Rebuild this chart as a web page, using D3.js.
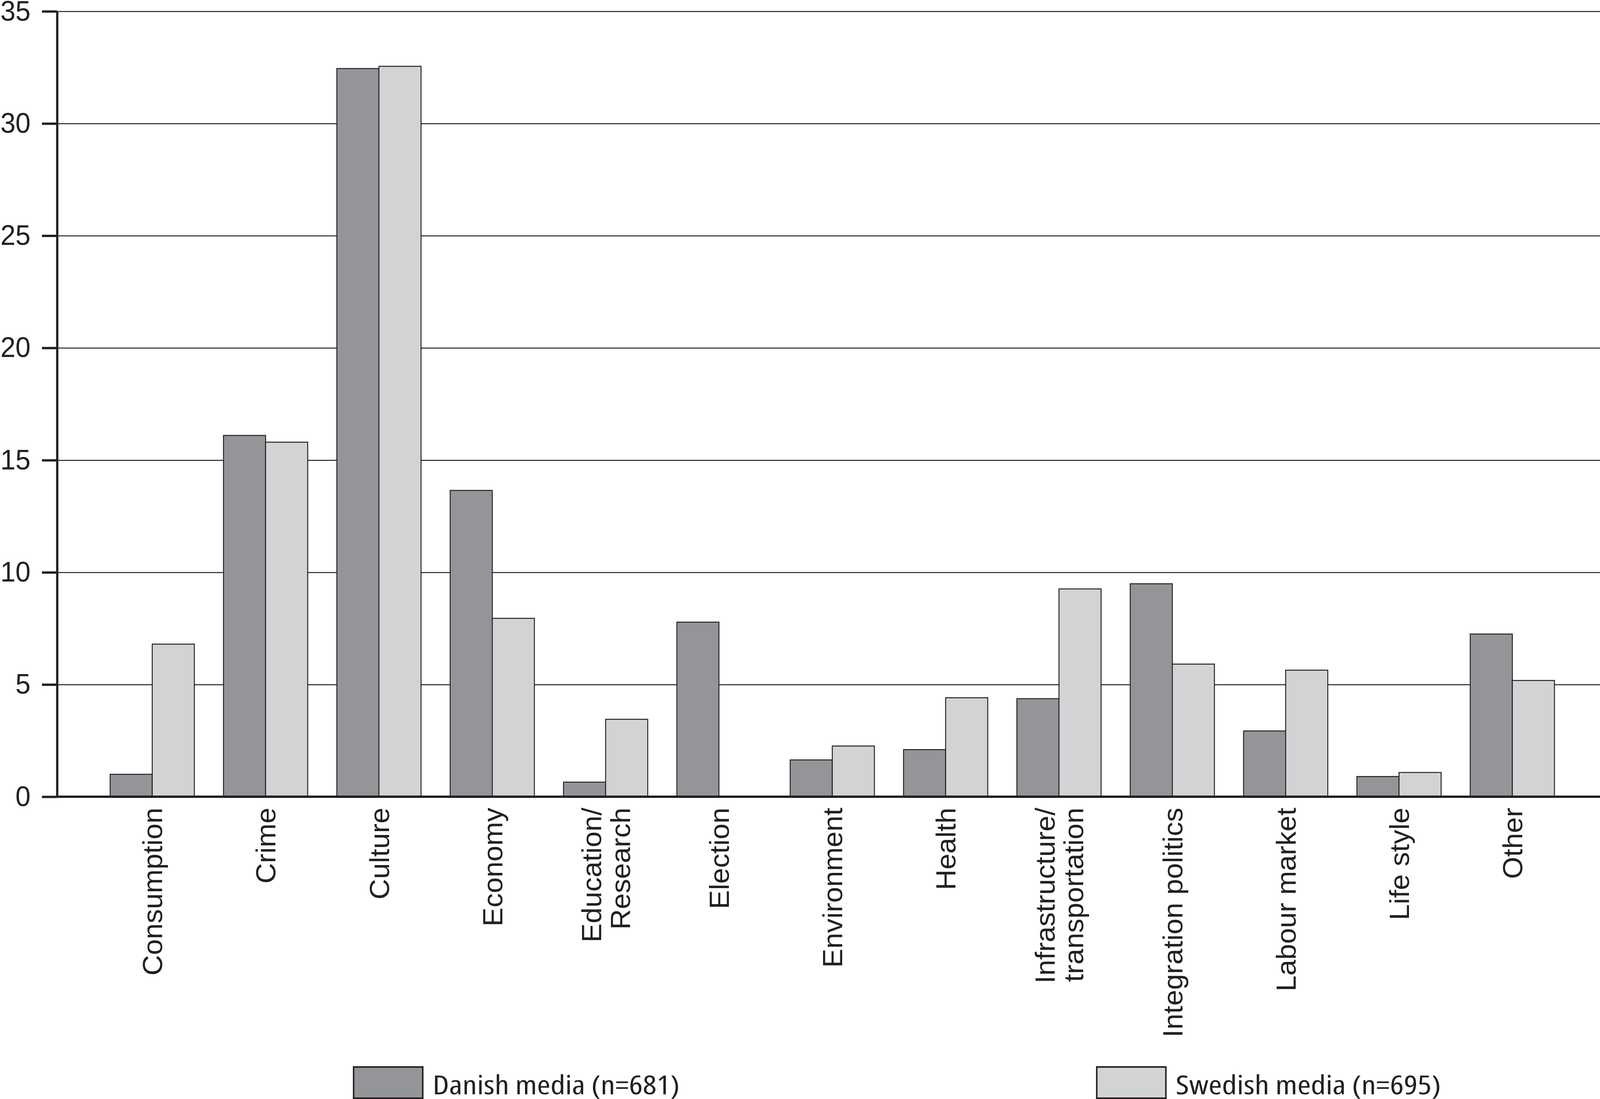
<!DOCTYPE html>
<html>
<head>
<meta charset="utf-8">
<script src="https://cdn.jsdelivr.net/npm/d3@7/dist/d3.min.js"></script>
<style>
  html, body { margin: 0; padding: 0; width: 100%; height: 100%; overflow: hidden; background: #fff; }
  svg { display: block; }
</style>
</head>
<body>
<script>
var categories = ['Consumption', 'Crime', 'Culture', 'Economy', 'Education/Research', 'Election',
  'Environment', 'Health', 'Infrastructure/transportation', 'Integration politics',
  'Labour market', 'Life style', 'Other'];
var danish  = [1.0, 16.1, 32.45, 13.65, 0.65, 7.78, 1.64, 2.1, 4.37, 9.49, 2.93, 0.9, 7.25];
var swedish = [6.8, 15.8, 32.55, 7.95, 3.45, 0, 2.26, 4.41, 9.26, 5.91, 5.64, 1.08, 5.18];
var seriesNames = ['Danish media (n=681)', 'Swedish media (n=695)'];
var yTicks = [0, 5, 10, 15, 20, 25, 30, 35];

var svgWidth = 4235;
var svgHeight = 2814;
var axisX = 151;
var ink = '#231f20';
var fills = ['#939598', '#d1d3d4'];

var svg = d3.select('body').append('svg')
  .attr('width', '100%')
  .attr('height', '100%')
  .attr('viewBox', '0 0 ' + svgWidth + ' ' + svgHeight)
  .attr('preserveAspectRatio', 'none');

svg.append('rect')
  .attr('width', svgWidth)
  .attr('height', svgHeight)
  .attr('fill', '#fff');

var yScale = d3.scaleLinear()
  .domain([0, 35])
  .range([2040, 29]);

var xScale = d3.scaleBand()
  .domain(categories)
  .range([253, 4153])
  .paddingInner(0.257)
  .paddingOuter(0.1285);

var x1 = d3.scaleBand()
  .domain([0, 1])
  .range([0, xScale.bandwidth()]);

// grid lines (behind the bars)
var grid = svg.append('g')
  .attr('transform', 'translate(' + axisX + ',0)')
  .call(d3.axisLeft(yScale).tickValues(yTicks.filter(function(d) { return d > 0; }))
    .tickSize(-(svgWidth - axisX)).tickFormat(''));
grid.select('.domain').remove();
grid.selectAll('.tick line')
  .attr('stroke', ink)
  .attr('stroke-width', 2.5);

// bars
var rows = categories.map(function(c, i) {
  return {cat: c, values: [danish[i], swedish[i]]};
});

var groups = svg.selectAll('g.group')
  .data(rows)
  .enter()
  .append('g')
    .attr('class', 'group')
    .attr('transform', function(d) { return 'translate(' + xScale(d.cat) + ',0)'; });

groups.selectAll('rect')
  .data(function(d) { return d.values.map(function(v, k) { return {k: k, v: v}; }); })
  .enter()
  .filter(function(d) { return d.v > 0; })
  .append('rect')
    .attr('x', function(d) { return x1(d.k); })
    .attr('y', function(d) { return yScale(d.v); })
    .attr('width', x1.bandwidth())
    .attr('height', function(d) { return yScale(0) - yScale(d.v); })
    .attr('fill', function(d) { return fills[d.k]; })
    .attr('stroke', ink)
    .attr('stroke-width', 2.5);

// zero line
svg.append('line')
  .attr('x1', axisX)
  .attr('x2', svgWidth)
  .attr('y1', yScale(0))
  .attr('y2', yScale(0))
  .attr('stroke', ink)
  .attr('stroke-width', 6);

// y axis
var yAxis = svg.append('g')
  .attr('transform', 'translate(' + axisX + ',0)')
  .call(d3.axisLeft(yScale).tickValues(yTicks).tickSize(40).tickSizeOuter(0).tickPadding(30));
yAxis.select('.domain')
  .attr('stroke', ink)
  .attr('stroke-width', 6);
yAxis.selectAll('.tick line')
  .attr('stroke', ink)
  .attr('stroke-width', 6);
yAxis.selectAll('.tick text')
  .attr('fill', ink)
  .attr('font-family', 'Liberation Sans, Arial, sans-serif')
  .attr('font-size', 72);

// x axis labels, rotated
var xAxis = svg.append('g')
  .attr('transform', 'translate(0,' + yScale(0) + ')')
  .call(d3.axisBottom(xScale).tickSize(0).tickFormat(''));
xAxis.select('.domain').remove();

xAxis.selectAll('.tick').each(function(d) {
  var cut = d.indexOf('/');
  var lines = cut >= 0 ? [d.slice(0, cut + 1), d.slice(cut + 1)] : [d];
  var lineH = 76;
  var t = d3.select(this).append('text')
    .attr('transform', 'translate(0,28) rotate(-90)')
    .attr('text-anchor', 'end')
    .attr('fill', ink)
    .attr('font-family', 'Liberation Sans, Arial, sans-serif')
    .attr('font-size', 73);
  lines.forEach(function(line, j) {
    t.append('tspan')
      .attr('x', 0)
      .attr('y', (j - (lines.length - 1) / 2) * lineH)
      .attr('dy', '0.36em')
      .text(line);
  });
});

// legend
var legendX = [936, 2903];
var legendTextW = [654, 702];
var legend = svg.selectAll('g.legend')
  .data(seriesNames)
  .enter()
  .append('g')
    .attr('class', 'legend')
    .attr('transform', function(d, i) { return 'translate(' + legendX[i] + ',2732)'; });

legend.append('rect')
  .attr('width', 183)
  .attr('height', 80)
  .attr('fill', function(d, i) { return fills[i]; })
  .attr('stroke', ink)
  .attr('stroke-width', 4);

legend.append('text')
  .attr('x', 209)
  .attr('y', 70)
  .attr('fill', ink)
  .attr('font-family', 'Open Sans, sans-serif')
  .attr('font-stretch', '87.5%')
  .attr('font-size', 68)
  .attr('textLength', function(d, i) { return legendTextW[i]; })
  .attr('lengthAdjust', 'spacingAndGlyphs')
  .text(function(d) { return d; });
</script>
</body>
</html>
